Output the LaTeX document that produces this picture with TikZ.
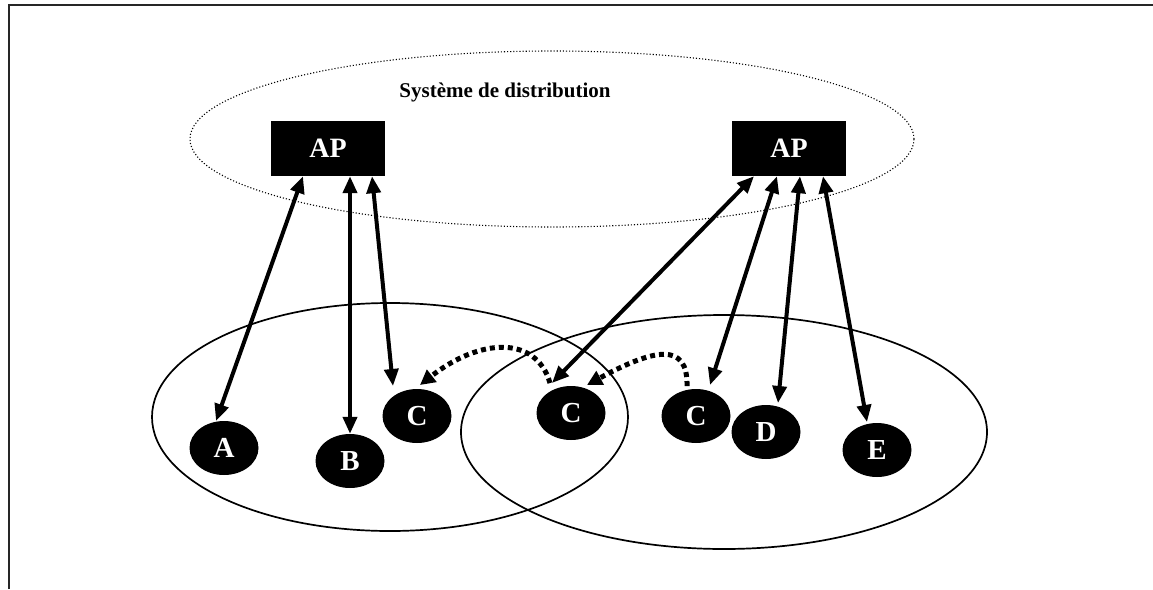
\documentclass[tikz,border=0pt]{standalone}
\usepackage{fontspec}
\setmainfont{Liberation Serif}
\usetikzlibrary{shapes.geometric,arrows.meta}

\begin{document}
\begin{tikzpicture}[x=1pt,y=-1pt,
  station/.style={ellipse,fill=black,minimum width=69pt,minimum height=54pt,
    inner sep=0pt,text=white,font=\fontsize{29}{31}\selectfont\bfseries},
  apbox/.style={rectangle,fill=black,minimum width=114pt,minimum height=55pt,
    inner sep=0pt,text=white,font=\fontsize{28}{30}\selectfont\bfseries},
  heading/.style={font=\fontsize{21}{23}\selectfont\bfseries},
  link/.style={line width=4pt,
    {Triangle[length=17pt,width=14pt]}-{Triangle[length=17pt,width=14pt]}},
  hop/.style={line width=5pt,dash pattern=on 5pt off 4pt,
    -{Triangle[length=15pt,width=15pt]}},
  cell/.style={line width=1.7pt},
  dsys/.style={line width=1.1pt,dotted},
  frame/.style={line width=2pt,black!85}
]
\useasboundingbox (0,0) rectangle (1153,589);

% open frame (top and left edges only)
\draw[frame] (9,589) -- (9,5) -- (1153,5);

% distribution system and the two radio cells
\draw[dsys] (552,139) ellipse [x radius=362pt, y radius=88pt];
\draw[cell] (390,417) ellipse [x radius=238pt, y radius=114pt];
\draw[cell] (724,432) ellipse [x radius=263pt, y radius=117pt];

\node[heading] (ds) at (505,92) {Système de distribution};

% access points
\node[apbox] (apL) at (328,148.5) {AP};
\node[apbox] (apR) at (789,148.5) {AP};

% stations
\node[station] (A)  at (224,448) {A};
\node[station] (B)  at (350,461) {B};
\node[station] (C1) at (417,416) {C};
\node[station] (C2) at (571,413) {C};
\node[station] (C3) at (696,416) {C};
\node[station] (D)  at (766,432) {D};
\node[station] (E)  at (877,450) {E};

% associations with the left access point
\draw[link] ([xshift=-25pt]apL.south) -- ([shift={(-8,-27)}]A.center);
\draw[link] ([xshift=22pt]apL.south) -- (B.north);
\draw[link] ([xshift=44pt]apL.south) -- ([shift={(-24,-30)}]C1.center);

% associations with the right access point
\draw[link] ([xshift=-35pt]apR.south) -- ([shift={(-19,-30)}]C2.center);
\draw[link] ([xshift=-12pt]apR.south) -- ([shift={(14,-31)}]C3.center);
\draw[link] ([xshift=11pt]apR.south) -- ([shift={(12,-29)}]D.center);
\draw[link] ([xshift=34pt]apR.south) -- ([shift={(-10,-28)}]E.center);

% roaming of station C
\draw[hop] ([shift={(-21,-30)}]C2.center)
  .. controls (536,335) and (480,338) .. ([shift={(3,-31)}]C1.center);
\draw[hop] ([shift={(-9,-30)}]C3.center)
  .. controls (688,342) and (655,348) .. ([shift={(16,-28)}]C2.center);
\end{tikzpicture}
\end{document}
